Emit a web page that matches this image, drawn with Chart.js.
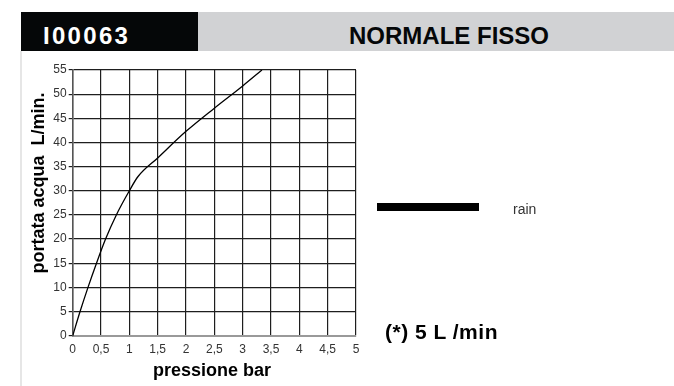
<!DOCTYPE html>
<html>
<head>
<meta charset="utf-8">
<script src="https://cdn.jsdelivr.net/npm/chart.js@4.4.1/dist/chart.umd.min.js"></script>
<style>
  html, body { margin: 0; padding: 0; background: #fff; }
  body { width: 674px; height: 386px; position: relative; overflow: hidden; font-family: "Liberation Sans", Arial, sans-serif; }
  #hdrBlack { position: absolute; left: 21px; top: 12px; width: 177px; height: 39px; background: #050708; }
  #hdrGrey { position: absolute; left: 198px; top: 12px; width: 476px; height: 39px; background: #d1d2d4; }
  #leftRule { position: absolute; left: 20px; top: 51px; width: 2px; height: 335px; background: #e6e6e6; }
  .hdrText { position: absolute; font-weight: bold; font-size: 24px; line-height: 24px; white-space: nowrap; }
  #code { left: 43px; top: 24px; color: #fff; letter-spacing: 2.3px; }
  #title { left: 349px; top: 24px; color: #050708; letter-spacing: 0px; }
  #legLine { position: absolute; left: 377px; top: 203px; width: 102px; height: 8px; background: #000; }
  #legText { position: absolute; left: 513px; top: 201px; font-size: 14px; line-height: 16px; color: #333; }
  #note { position: absolute; left: 385px; top: 320px; font-size: 21px; line-height: 23px; font-weight: bold; color: #000; letter-spacing: 0.5px; white-space: nowrap; }
  canvas { position: absolute; left: 0; top: 0; }
</style>
</head>
<body>
<div id="hdrBlack"></div>
<div id="hdrGrey"></div>
<div id="leftRule"></div>
<div id="code" class="hdrText">I00063</div>
<div id="title" class="hdrText">NORMALE FISSO</div>
<canvas id="c" width="674" height="386"></canvas>
<div id="legLine"></div>
<div id="legText">rain</div>
<div id="note">(*) 5 L /min</div>
<script>
// Data
const seriesName = "rain";
const pressure = [0, 0.13, 0.27, 0.42, 0.58, 0.77, 1.0, 1.15, 1.5,  2.0,  2.5,  3.0,  3.34];
const flow     = [0, 5,    10,   15,   20,   25,   30,  32.9, 36.8, 42.3, 47.1, 51.7, 55];
const xTickLabels = ["0", "0,5", "1", "1,5", "2", "2,5", "3", "3,5", "4", "4,5", "5"];
const yTickLabels = ["0", "5", "10", "15", "20", "25", "30", "35", "40", "45", "50", "55"];
const xTitle = "pressione bar";
const yTitle = "portata acqua  L/min.";

const points = pressure.map((p, i) => ({ x: p, y: flow[i] }));

const axisTitles = {
  id: "axisTitles",
  afterDraw(chart) {
    const ctx = chart.ctx;
    ctx.save();
    ctx.fillStyle = "#000";
    ctx.font = "bold 18px 'Liberation Sans', Arial, sans-serif";
    ctx.textAlign = "center";
    ctx.textBaseline = "middle";
    ctx.fillText(xTitle, 212, 371);
    ctx.translate(39, 183);
    ctx.rotate(-Math.PI / 2);
    ctx.fillText(yTitle, 0, 0);
    ctx.restore();
  }
};

new Chart(document.getElementById("c"), {
  type: "scatter",
  data: {
    datasets: [{
      label: seriesName,
      data: points,
      showLine: true,
      borderColor: "#000",
      borderWidth: 1.3,
      pointRadius: 0,
      cubicInterpolationMode: "monotone",
      fill: false
    }]
  },
  options: {
    responsive: false,
    animation: false,
    devicePixelRatio: 1,
    layout: { padding: { left: 0, right: 318, top: 70, bottom: 0 } },
    plugins: { legend: { display: false }, tooltip: { enabled: false } },
    scales: {
      x: {
        type: "linear",
        min: 0, max: 5,
        afterFit(scale) { scale.height = 50.3; },
        ticks: {
          stepSize: 0.5,
          color: "#333",
          padding: 7,
          font: { size: 12, family: "'Liberation Sans', Arial, sans-serif" },
          maxRotation: 0,
          autoSkip: false,
          callback: (v, i) => xTickLabels[i]
        },
        grid: { color: "#1e1e1e", lineWidth: 1.2, drawTicks: false },
        border: { color: "#999", width: 2 }
      },
      y: {
        type: "linear",
        min: 0, max: 55,
        afterFit(scale) { scale.width = 72.7; },
        ticks: {
          stepSize: 5,
          color: "#333",
          padding: 2,
          font: { size: 12, family: "'Liberation Sans', Arial, sans-serif" },
          autoSkip: false,
          callback: (v, i) => yTickLabels[i]
        },
        grid: { color: "#1e1e1e", lineWidth: 1.2, drawTicks: true, tickLength: 4 },
        border: { color: "#555", width: 1.5 }
      }
    }
  },
  plugins: [axisTitles]
});
</script>
</body>
</html>
